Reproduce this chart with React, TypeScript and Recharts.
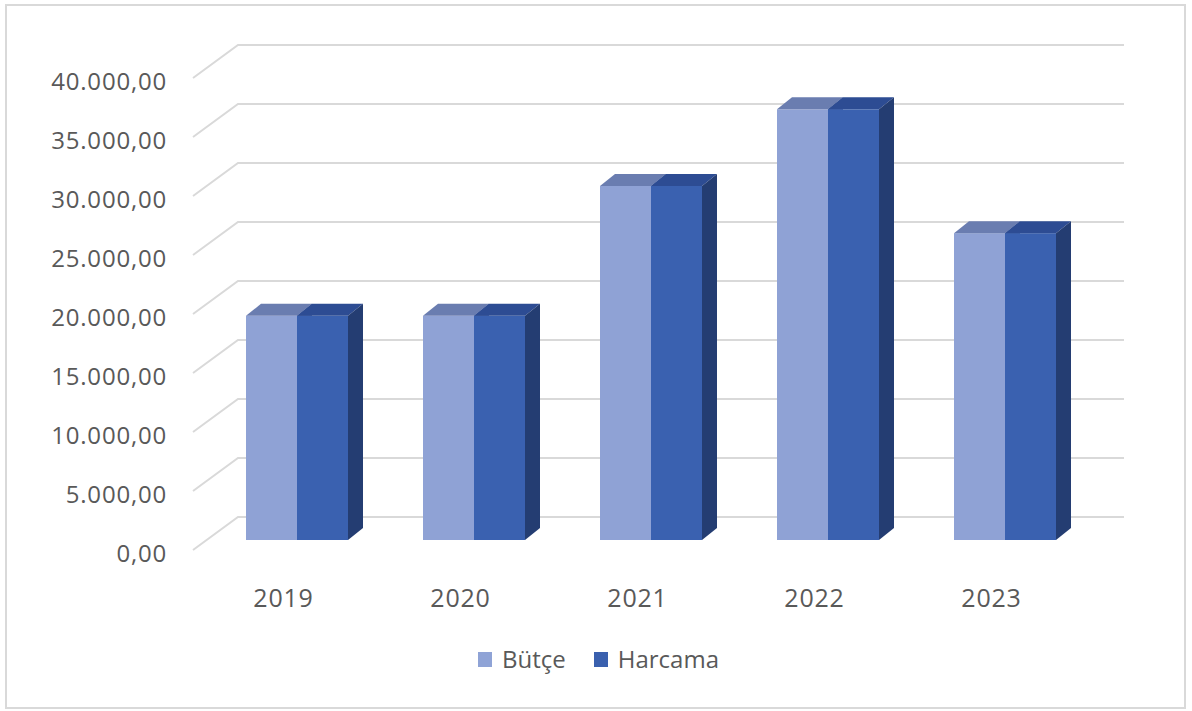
import React from "react";
import { BarChart, Bar, XAxis, YAxis, CartesianGrid } from "recharts";

const categories = ["2019", "2020", "2021", "2022", "2023"];
const butce = [19000, 19000, 30000, 36500, 26000];
const harcama = [19000, 19000, 30000, 36500, 26000];
const yTicks = [0, 5000, 10000, 15000, 20000, 25000, 30000, 35000, 40000];
const seriesNames = ["Bütçe", "Harcama"];

const data = categories.map((c, i) => ({ year: c, butce: butce[i], harcama: harcama[i] }));

const FONT = "'Open Sans', 'DejaVu Sans', sans-serif";
const TEXT = "#595959";
const DX = 15;
const DY = 12;

const formatTR = (v: number) => {
  const s = Math.round(v).toString().replace(/\B(?=(\d{3})+(?!\d))/g, ".");
  return s + ",00";
};

const makeShape = (front: string, top: string, side: string) => (props: any) => {
  const { x, y, width, height } = props;
  if (width == null || height == null) return <g />;
  return (
    <g>
      <rect x={x} y={y} width={width} height={height} fill={front} />
      <polygon
        points={`${x},${y} ${x + DX},${y - DY} ${x + width + DX},${y - DY} ${x + width},${y}`}
        fill={top}
      />
      <polygon
        points={`${x + width},${y} ${x + width + DX},${y - DY} ${x + width + DX},${y + height - DY} ${x + width},${y + height}`}
        fill={side}
      />
    </g>
  );
};

const GridLine = (props: any) => {
  const { x1, x2, y1 } = props;
  return (
    <polyline
      key={props.key}
      points={`${x1 - 15},${y1 + 10} ${x1 + 30},${y1 - 23} ${x2 + 31},${y1 - 23}`}
      fill="none"
      stroke="#d9d9d9"
      strokeWidth={2}
    />
  );
};

const YTick = (props: any) => {
  const { x, y, payload } = props;
  return (
    <text x={x - 41} y={y + 13} dy="0.36em" textAnchor="end" fill={TEXT} fontSize={24} fontFamily={FONT} letterSpacing={0.8}>
      {formatTR(payload.value)}
    </text>
  );
};

const XTick = (props: any) => {
  const { x, y, payload } = props;
  return (
    <text x={x - 13} y={y + 50} dy="0.36em" textAnchor="middle" fill={TEXT} fontSize={25} fontFamily={FONT} letterSpacing={0.8}>
      {payload.value}
    </text>
  );
};

const legendColors = ["#8fa3d6", "#3a60ae"];

export default function App() {
  return (
    <div style={{ position: "absolute", left: 0, top: 0, width: 1192, height: 711, background: "#fff" }}>
      <div
        style={{
          position: "absolute",
          left: 5,
          top: 4,
          width: 1177,
          height: 701,
          border: "2px solid #d9d9d9",
        }}
      />
      <div style={{ position: "absolute", left: 0, top: 0 }}>
        <BarChart
          width={1192}
          height={711}
          data={data}
          margin={{ top: 68, right: 99, bottom: 111, left: 168 }}
          barCategoryGap={38}
          barGap={0}
        >
          <CartesianGrid vertical={false} horizontal={GridLine as any} />
          <XAxis
            dataKey="year"
            height={60}
            axisLine={false}
            tickLine={false}
            tick={<XTick />}
            interval={0}
          />
          <YAxis
            width={40}
            domain={[0, 40000]}
            ticks={yTicks}
            axisLine={false}
            tickLine={false}
            tickMargin={0}
            tickSize={0}
            tick={<YTick />}
            interval={0}
          />
          <Bar
            dataKey="butce"
            name={seriesNames[0]}
            isAnimationActive={false}
            shape={makeShape("#8fa2d5", "#6a7db0", "#5a6fa6")}
          />
          <Bar
            dataKey="harcama"
            name={seriesNames[1]}
            isAnimationActive={false}
            shape={makeShape("#3a61b0", "#2d4c93", "#243d72")}
          />
        </BarChart>
      </div>
      <div
        style={{
          position: "absolute",
          left: 478,
          top: 643,
          display: "flex",
          alignItems: "center",
          fontFamily: FONT,
          fontSize: 24,
          color: TEXT,
          lineHeight: "32px",
        }}
      >
        {seriesNames.map((n, i) => (
          <div key={n} style={{ display: "flex", alignItems: "center", marginRight: 28 }}>
            <div style={{ width: 14, height: 15, background: legendColors[i], marginRight: 10 }} />
            <span>{n}</span>
          </div>
        ))}
      </div>
    </div>
  );
}
